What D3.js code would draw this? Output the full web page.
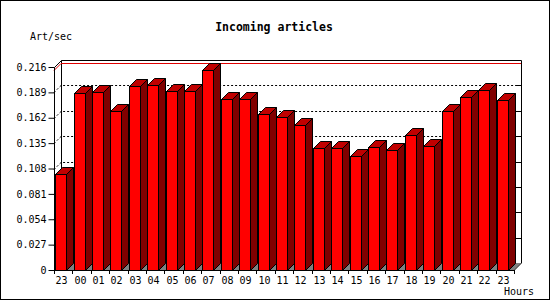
<!DOCTYPE html>
<html>
<head>
<meta charset="utf-8">
<script src="https://cdn.jsdelivr.net/npm/d3@7"></script>
<style>
  body { margin: 0; background: #fff; }
  svg { display: block; }
  text { font-family: "DejaVu Sans Mono", monospace; font-size: 10px; fill: #000; }
</style>
</head>
<body>
<svg id="svg" width="550" height="300"></svg>
<script>
// ----- data -----
const hours = ["23","00","01","02","03","04","05","06","07","08","09","10","11","12",
               "13","14","15","16","17","18","19","20","21","22","23"];
const rates = [0.102,0.188,0.189,0.169,0.196,0.197,0.190,0.190,0.213,0.182,0.182,0.166,0.163,0.154,
               0.130,0.130,0.121,0.131,0.128,0.144,0.132,0.169,0.184,0.192,0.181];
const yTicks = [0,0.027,0.054,0.081,0.108,0.135,0.162,0.189,0.216];

const svg = d3.select("#svg");
const W = 550, H = 300;
const plotL = 54, plotR = 514, plotB = 270, plotT = 67;
const depth = 7;        // 3d offset
const frontW = 11;      // bar face width

const x = d3.scaleBand().domain(d3.range(hours.length)).range([plotL, plotR]);
const y = d3.scaleLinear().domain([0, 0.216]).range([plotB, plotT]);

// outer border
svg.append("rect").attr("x", 0.5).attr("y", 0.5).attr("width", W - 1).attr("height", H - 1)
  .attr("fill", "#fff").attr("stroke", "#000");

// ----- back wall + floor -----
svg.append("path")
  .attr("d", `M${plotL},${plotB}L${plotR},${plotB}L${plotR + depth},${plotB - depth}L${plotL + depth},${plotB - depth}Z`)
  .attr("fill", "#808080");

// dotted gridlines on the back wall
const g = svg.append("g").attr("fill", "none").attr("stroke", "#000");
yTicks.slice(1, -1).forEach(v => {
  const yy = Math.round(y(v)) + 0.5;
  g.append("path")
    .attr("d", `M${plotL},${yy}L${plotL + depth},${yy - depth}L${plotR + depth - 4},${yy - depth}`)
    .attr("stroke-dasharray", "2,2");
  g.append("line").attr("x1", plotR + depth - 4).attr("x2", plotR + depth)
    .attr("y1", yy - depth).attr("y2", yy - depth);
});

// max line (red)
const ym = Math.round(y(d3.max(rates))) + 0.5;
svg.append("path")
  .attr("d", `M${plotL},${ym}L${plotL + depth},${ym - depth}L${plotR + depth},${ym - depth}`)
  .attr("fill", "none").attr("stroke", "#e00000");

// back frame
const t0 = Math.round(y(0.216)) + 0.5;
g.append("path")
  .attr("d", `M${plotL + 0.5},${t0}L${plotL + depth + 0.5},${t0 - depth}L${plotR + depth + 0.5},${t0 - depth}L${plotR + depth + 0.5},${plotB - depth}L${plotR},${plotB + 0.5}`);
g.append("line").attr("x1", plotL + depth + 0.5).attr("x2", plotL + depth + 0.5)
  .attr("y1", t0 - depth).attr("y2", plotB - depth);

// ----- bars -----
const pad = (x.bandwidth() - frontW - depth) / 2 + 1;
const bars = svg.append("g").attr("stroke", "#000").attr("stroke-linejoin", "miter");
rates.forEach((v, i) => {
  const x0 = Math.round(x(i) + pad) + 0.5;
  const x1 = x0 + frontW;
  const yt = Math.round(y(v)) + 0.5;
  const yb = plotB + 0.5;
  // side
  bars.append("path")
    .attr("d", `M${x1},${yt}L${x1 + depth},${yt - depth}L${x1 + depth},${yb - depth}L${x1},${yb}Z`)
    .attr("fill", "#800000");
  // top
  bars.append("path")
    .attr("d", `M${x0},${yt}L${x0 + depth},${yt - depth}L${x1 + depth},${yt - depth}L${x1},${yt}Z`)
    .attr("fill", "#c00000");
  // front
  bars.append("rect").attr("x", x0).attr("y", yt).attr("width", frontW).attr("height", yb - yt)
    .attr("fill", "#ff0000");
});

// ----- axes -----
const axY = svg.append("g").attr("transform", `translate(${plotL + 0.5},0)`)
  .call(d3.axisLeft(y).tickValues(yTicks).tickSize(6).tickPadding(2)
    .tickFormat(d => d === 0 ? "0" : d3.format(".3f")(d)));
axY.select(".domain").attr("d", `M0,${t0}V${plotB + 0.5}`);
axY.selectAll(".tick line").attr("stroke", "#000");
axY.attr("font-family", null).attr("font-size", null);

// bottom axis: line, ticks at band edges, labels at bar faces
svg.append("line").attr("x1", plotL).attr("x2", plotR).attr("y1", plotB + 0.5).attr("y2", plotB + 0.5)
  .attr("stroke", "#000");
d3.range(hours.length + 1).forEach(i => {
  const xx = Math.round(plotL + i * x.step()) + 0.5;
  svg.append("line").attr("x1", xx).attr("x2", xx).attr("y1", plotB).attr("y2", plotB + 4)
    .attr("stroke", "#000");
});
svg.append("g").selectAll("text").data(hours).join("text")
  .attr("x", (d, i) => Math.round(x(i) + pad) + frontW / 2 + 1)
  .attr("y", 284).attr("text-anchor", "middle").text(d => d);

// ----- labels -----
svg.append("text").attr("x", 274).attr("y", 31).attr("text-anchor", "middle")
  .style("font-weight", "bold").style("font-size", "11.5px").text("Incoming articles");
svg.append("text").attr("x", 30).attr("y", 40).text("Art/sec");
svg.append("text").attr("x", 534).attr("y", 295).attr("text-anchor", "end").text("Hours");
</script>
</body>
</html>
